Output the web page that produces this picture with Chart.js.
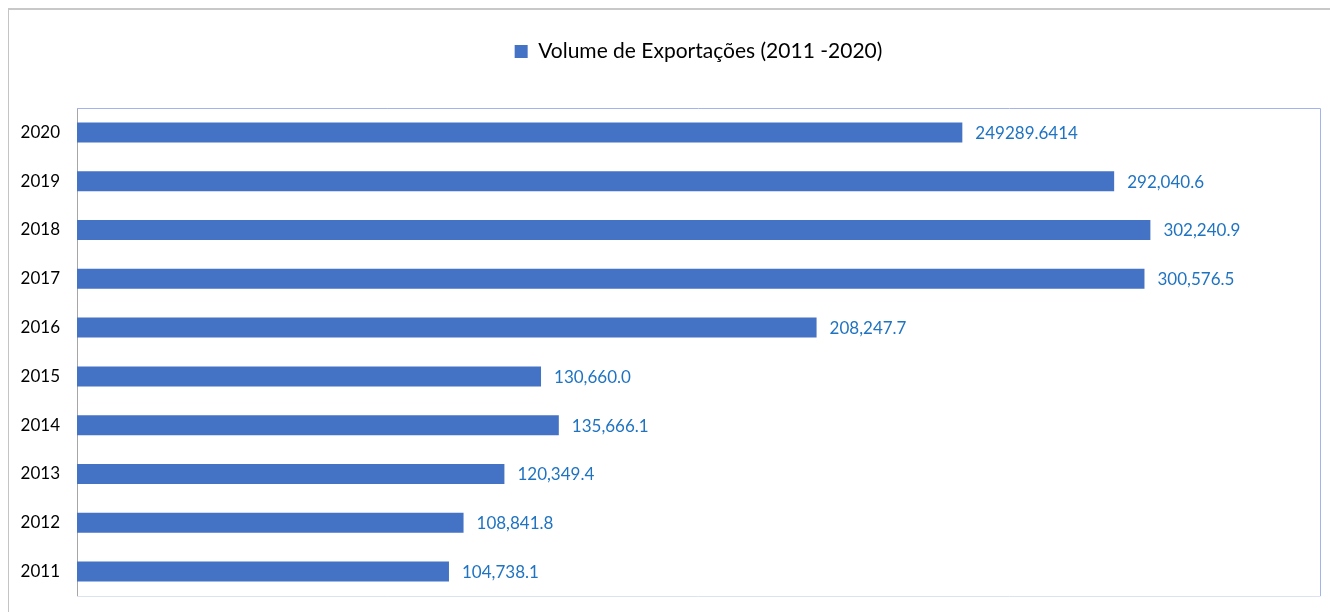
<!DOCTYPE html>
<html>
<head>
<meta charset="utf-8">
<script src="https://cdn.jsdelivr.net/npm/chart.js@4.4.0/dist/chart.umd.min.js"></script>
<style>
  html, body { margin: 0; padding: 0; background: #fff; overflow: hidden; }
  #wrap { position: relative; width: 1330px; height: 612px; }
  #frame {
    position: absolute; left: 8px; top: 8px; right: 0; bottom: 0;
    border-left: 1px solid #c4c4c4; border-top: 2px solid #c8c8c8;
  }
  canvas { position: absolute; left: 0; top: 0; }
</style>
</head>
<body>
<div id="wrap">
  <div id="frame"></div>
  <canvas id="exportChart" width="1330" height="612"></canvas>
</div>
<script>
// ==================== DATA ====================
// listed top to bottom as in the chart
const years = ['2020', '2019', '2018', '2017', '2016', '2015', '2014', '2013', '2012', '2011'];
const exportVolume = [249289.6414, 292040.6, 302240.9, 300576.5, 208247.7, 130660.0, 135666.1, 120349.4, 108841.8, 104738.1];
const valueLabels = ['249289.6414', '292,040.6', '302,240.9', '300,576.5', '208,247.7', '130,660.0', '135,666.1', '120,349.4', '108,841.8', '104,738.1'];
const seriesName = 'Volume de Exportações (2011 -2020)';

// ==================== STYLE ====================
const FONT = "Lato, 'Open Sans', sans-serif";
const BAR_BLUE = '#4472C4';
const LABEL_BLUE = '#1f73c1';

// empty box between the legend and the plot area
const legendGap = {
    id: 'legendGap',
    beforeInit(chart) {
        Chart.layouts.addBox(chart, {
            position: 'top',
            weight: 0,
            fullSize: false,
            options: {},
            isHorizontal() { return true; },
            update(maxWidth) { this.width = maxWidth; this.height = 36; },
            draw() {}
        });
    }
};

// plot area frame (light blue, like the spreadsheet chart)
const plotFrame = {
    id: 'plotFrame',
    beforeDatasetsDraw(chart) {
        const {ctx, chartArea: a} = chart;
        ctx.save();
        ctx.lineWidth = 1;
        ctx.strokeStyle = '#a3b3ee';
        ctx.beginPath();
        ctx.moveTo(a.left, a.top + 0.5);
        ctx.lineTo(a.right + 0.5, a.top + 0.5);
        ctx.lineTo(a.right + 0.5, a.bottom);
        ctx.stroke();
        ctx.strokeStyle = '#dde2f3';
        ctx.beginPath();
        ctx.moveTo(a.left, a.bottom + 0.5);
        ctx.lineTo(a.right + 0.5, a.bottom + 0.5);
        ctx.stroke();
        ctx.restore();
    }
};

// value labels after each bar end
const barValues = {
    id: 'barValues',
    afterDatasetsDraw(chart) {
        const {ctx} = chart;
        const meta = chart.getDatasetMeta(0);
        ctx.save();
        ctx.font = `17px ${FONT}`;
        ctx.fillStyle = LABEL_BLUE;
        ctx.textAlign = 'left';
        ctx.textBaseline = 'middle';
        meta.data.forEach((bar, i) => {
            ctx.fillText(valueLabels[i], bar.x + 13, bar.y + 1);
        });
        ctx.restore();
    }
};

// ==================== CHART ====================
const chart = new Chart(document.getElementById('exportChart'), {
    type: 'bar',
    data: {
        labels: years,
        datasets: [{
            label: seriesName,
            data: exportVolume,
            backgroundColor: BAR_BLUE,
            borderWidth: 0,
            categoryPercentage: 1,
            barPercentage: 0.41
        }]
    },
    options: {
        indexAxis: 'y',
        responsive: false,
        animation: false,
        layout: { padding: { left: 0, right: 10, top: 17, bottom: 16 } },
        plugins: {
            tooltip: { enabled: false },
            legend: {
                position: 'top',
                fullSize: false,   // centre over the plot area
                labels: {
                    color: '#000',
                    font: { family: FONT, size: 21 },
                    boxWidth: 13,
                    boxHeight: 13,
                    padding: 24
                }
            }
        },
        scales: {
            x: {
                display: false,
                min: 0,
                max: 350000
            },
            y: {
                grid: { display: false, drawTicks: false },
                border: { display: true, color: '#a6a6a6', width: 1 },
                ticks: {
                    color: '#000',
                    font: { family: FONT, size: 17 },
                    padding: 17
                },
                afterFit(scale) {
                    scale.width = 77;
                    scale.paddingTop = 0;
                    scale.paddingBottom = 0;
                }
            }
        }
    },
    plugins: [legendGap, plotFrame, barValues]
});
</script>
</body>
</html>
